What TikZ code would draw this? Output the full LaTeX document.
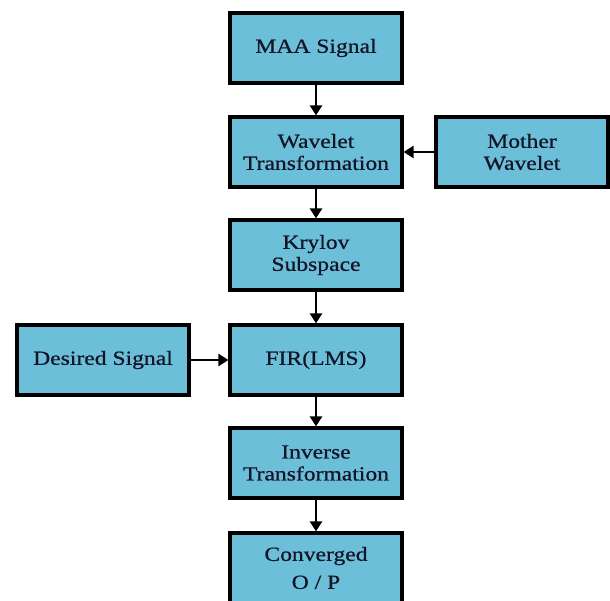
\documentclass[tikz,border=0pt]{standalone}
\usepackage{fontspec}
\setmainfont[FakeStretch=1.18,FakeBold=0.7]{Liberation Serif}
\usetikzlibrary{arrows.meta}
\definecolor{boxblue}{RGB}{108,191,216}
\definecolor{txt}{RGB}{20,20,40}
\begin{document}
\begin{tikzpicture}[x=1pt,y=-1pt,
  blk/.style={draw=black,line width=3.2pt,fill=boxblue,minimum width=172pt,minimum height=70pt,
    inner sep=0pt,align=center,font=\fontsize{20}{22}\selectfont,text=txt},
  arr/.style={line width=2.6pt,-{Triangle[length=10pt,width=12pt]}}]
\useasboundingbox (0,0) rectangle (610,601);
\clip (0,0) rectangle (610,601);
\fill[white] (0,0) rectangle (610,601);
\node[blk] (maa) at (316,48) {MAA Signal};
\node[blk] (wt) at (316,152) {Wavelet\\Transformation};
\node[blk] (mw) at (522,152) {Mother\\Wavelet};
\node[blk] (kr) at (316,255) {Krylov\\Subspace};
\node[blk] (fir) at (316,360) {FIR(LMS)};
\node[blk] (ds) at (103,360) {Desired Signal};
\node[blk] (inv) at (316,463) {Inverse\\Transformation};
\node[blk,font=\fontsize{20}{28}\selectfont] (cv) at (316,568) {Converged\\O / P};
\draw[arr] (maa) -- (wt);
\draw[arr] (mw) -- (wt);
\draw[arr] (wt) -- (kr);
\draw[arr] (kr) -- (fir);
\draw[arr] (ds) -- (fir);
\draw[arr] (fir) -- (inv);
\draw[arr] (inv) -- (cv);
\end{tikzpicture}
\end{document}
